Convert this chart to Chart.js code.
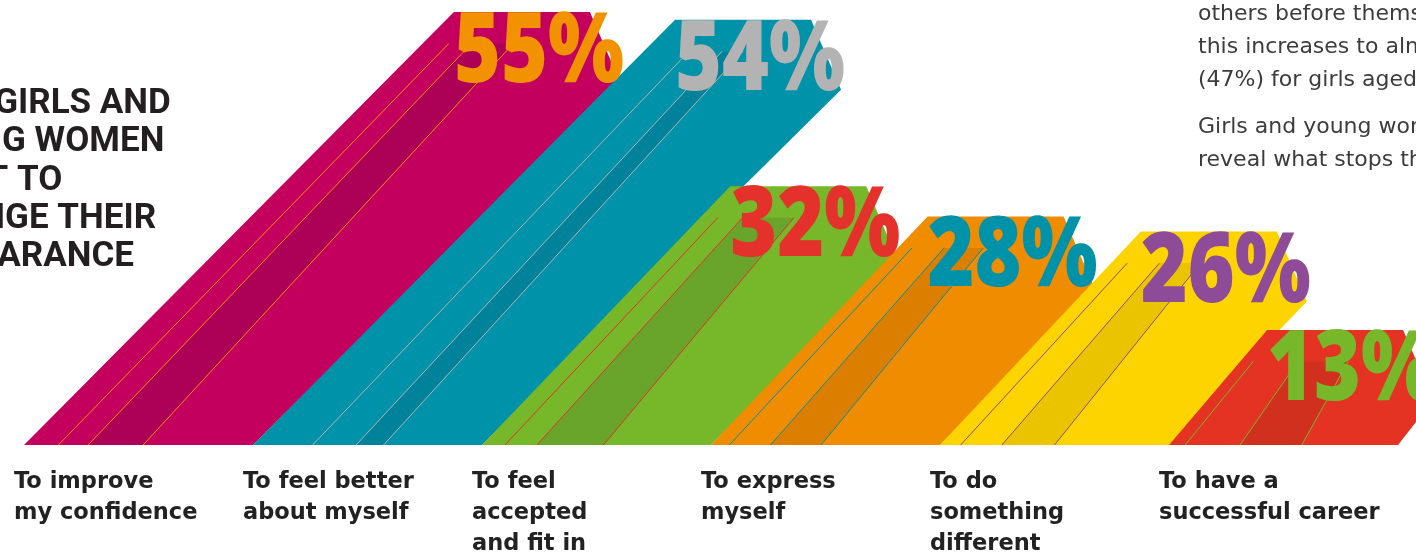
<!DOCTYPE html>
<html>
<head>
<meta charset="utf-8">
<script src="https://cdn.jsdelivr.net/npm/chart.js@4.4.1/dist/chart.umd.min.js"></script>
<style>
  html, body { margin: 0; padding: 0; background: #fff; overflow: hidden; }
</style>
</head>
<body>
<canvas id="chart" width="1416" height="554"></canvas>
<script>
// reasons given, share of girls and young women (%)
const categories = [
  ["To improve", "my confidence"],
  ["To feel better", "about myself"],
  ["To feel", "accepted", "and fit in"],
  ["To express", "myself"],
  ["To do", "something", "different"],
  ["To have a", "successful career"]
];
const values = [55, 54, 32, 28, 26, 13];
const valueLabels = values.map(v => v + "%");

const titleLines = ["WHY GIRLS AND", "YOUNG WOMEN", "WANT TO", "CHANGE THEIR", "APPEARANCE"];
const noteLines = [
  "others before themselves,",
  "this increases to almost half",
  "(47%) for girls aged 17\u201321.",
  "Girls and young women",
  "reveal what stops them"
];

// styling
const bandColors = ["#c4005f", "#0092a8", "#76b82a", "#ef8c00", "#fdd300", "#e53323"];
const bandShades = ["#ad0057", "#00829a", "#69a52b", "#dc7f00", "#ebc400", "#d2301f"];
const numberColors = ["#f39200", "#b3b3b3", "#e4312b", "#0092a8", "#8d4b98", "#76b82a"];
const stripeStops = [
  [0.15, 0.28, 0.52],
  [0.26, 0.45, 0.57],
  [0.10, 0.24, 0.53],
  [0.08, 0.26, 0.48],
  [0.09, 0.27, 0.50],
  [0.07, 0.31, 0.58]
];
const AXIS_MIN = -2.2;
const AXIS_MAX = 56.6;
const NUM_FONT = "800 98px 'Open Sans'";
const NUM_W = 170;   // drawn width of "55%"
const SLANT = 1.044; // horizontal shift per pixel of height
const INSET = 10;
const PAD_L = 14, PAD_R = 28;

function ribbonGeom(bar) {
  const wb = bar.width;
  const b0 = bar.x - wb / 2 + INSET;
  const yb = bar.base, yt = bar.y;
  const h = yb - yt;
  return {wb, b0, yb, yt, h, t0: b0 + h * SLANT - 22};
}

const ribbons = {
  id: 'ribbons',
  afterDatasetsDraw(chart) {
    const ctx = chart.ctx;
    const meta = chart.getDatasetMeta(0);
    ctx.save();
    ctx.font = NUM_FONT;
    const cap = ctx.measureText("55").actualBoundingBoxAscent;
    const sx = NUM_W / ctx.measureText("55%").width;

    meta.data.forEach((bar, i) => {
      const g = ribbonGeom(bar);
      const wt = ctx.measureText(valueLabels[i]).width * sx;
      const at = (f, y) => {
        const k = (g.yb - y) / g.h;
        const xb = g.b0 + f * g.wb, xt = g.t0 + f * wt;
        return xb + (xt - xb) * k;
      };
      ctx.fillStyle = bandColors[i];
      ctx.beginPath();
      ctx.moveTo(g.b0, g.yb);
      ctx.lineTo(g.t0, g.yt);
      ctx.lineTo(g.t0 + wt * 0.8, g.yt);
      ctx.lineTo(g.t0 + wt - 4, g.yt + cap);
      ctx.lineTo(g.b0 + g.wb, g.yb);
      ctx.closePath();
      ctx.fill();

      const yEnd = g.yt + cap * 0.45;
      const [f1, f2, f3] = stripeStops[i];
      ctx.fillStyle = bandShades[i];
      ctx.beginPath();
      ctx.moveTo(at(f2, g.yb), g.yb);
      ctx.lineTo(at(f2, yEnd), yEnd);
      ctx.lineTo(at(f3, yEnd), yEnd);
      ctx.lineTo(at(f3, g.yb), g.yb);
      ctx.closePath();
      ctx.fill();

      ctx.strokeStyle = numberColors[i];
      ctx.lineWidth = 1;
      [f1, f2, f3].forEach(f => {
        ctx.beginPath();
        ctx.moveTo(at(f, g.yb), g.yb);
        ctx.lineTo(at(f, yEnd), yEnd);
        ctx.stroke();
      });
    });

    meta.data.forEach((bar, i) => {
      const g = ribbonGeom(bar);
      ctx.save();
      ctx.translate(g.t0, g.yt + cap);
      ctx.scale(sx, 1);
      ctx.fillStyle = numberColors[i];
      ctx.textBaseline = 'alphabetic';
      ctx.textAlign = 'left';
      ctx.fillText(valueLabels[i], 0, 0);
      ctx.restore();
    });
    ctx.restore();
  }
};

const texts = {
  id: 'texts',
  afterDraw(chart) {
    const ctx = chart.ctx;
    ctx.save();
    ctx.textBaseline = 'alphabetic';
    ctx.textAlign = 'left';

    ctx.fillStyle = '#231f20';
    ctx.font = "bold 35px Roboto";
    const x0 = 2 - ctx.measureText("YOUN").width;
    titleLines.forEach((t, i) => ctx.fillText(t, x0, 113 + i * 38.3));

    ctx.fillStyle = '#3c3c3c';
    ctx.font = "22px 'DejaVu Sans'";
    noteLines.forEach((t, i) => ctx.fillText(t, 1198, 20 + i * 33 + (i > 2 ? 14 : 0)));
    ctx.restore();
  }
};

const plotW = 1416 - PAD_L - PAD_R;
new Chart(document.getElementById('chart'), {
  type: 'bar',
  data: {
    labels: categories,
    datasets: [{
      data: values,
      base: AXIS_MIN,
      backgroundColor: 'rgba(0,0,0,0)',
      categoryPercentage: 1,
      barPercentage: 1
    }]
  },
  options: {
    responsive: false,
    animation: false,
    layout: {padding: {left: PAD_L, right: PAD_R, top: 0, bottom: 0}},
    plugins: {legend: {display: false}, tooltip: {enabled: false}},
    scales: {
      x: {
        grid: {display: false, drawTicks: false},
        border: {display: false},
        ticks: {
          autoSkip: false,
          maxRotation: 0,
          align: 'start',
          labelOffset: -plotW / categories.length / 2,
          padding: 22,
          color: '#222222',
          font: {family: 'DejaVu Sans', weight: 'bold', size: 22.5, lineHeight: 31 / 22.5}
        },
        afterFit(scale) {
          scale.height = 109;
          scale.paddingLeft = 0;
          scale.paddingRight = 0;
        }
      },
      y: {display: false, min: AXIS_MIN, max: AXIS_MAX}
    }
  },
  plugins: [ribbons, texts]
});
</script>
</body>
</html>
